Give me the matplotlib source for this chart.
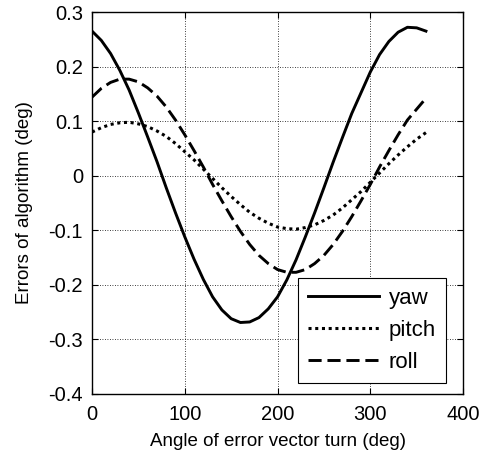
#!/usr/bin/env python3
"""Errors of algorithm versus angle of error vector turn (yaw / pitch / roll)."""

import matplotlib

matplotlib.use("Agg")
import matplotlib.pyplot as plt

angle = list(range(0, 361, 10))
yaw = [
    0.265, 0.248, 0.224, 0.193, 0.157, 0.115, 0.071, 0.026, -0.022, -0.068,
    -0.112, -0.153, -0.190, -0.222, -0.246, -0.262, -0.269, -0.268, -0.260, -0.244,
    -0.222, -0.191, -0.154, -0.112, -0.068, -0.022, 0.025, 0.070, 0.114, 0.152,
    0.190, 0.222, 0.246, 0.263, 0.272, 0.271, 0.265,
]
pitch = [
    0.080, 0.088, 0.094, 0.097, 0.098, 0.095, 0.090, 0.082, 0.072, 0.059,
    0.044, 0.029, 0.012, -0.005, -0.022, -0.038, -0.053, -0.067, -0.078, -0.087,
    -0.094, -0.097, -0.098, -0.095, -0.090, -0.082, -0.072, -0.059, -0.044, -0.029,
    -0.012, 0.005, 0.022, 0.038, 0.053, 0.067, 0.079,
]
roll = [
    0.144, 0.160, 0.171, 0.177, 0.177, 0.172, 0.161, 0.146, 0.126, 0.102,
    0.075, 0.046, 0.016, -0.016, -0.046, -0.075, -0.102, -0.126, -0.146, -0.161,
    -0.172, -0.177, -0.177, -0.172, -0.161, -0.146, -0.126, -0.102, -0.075, -0.046,
    -0.016, 0.016, 0.046, 0.075, 0.102, 0.122, 0.142,
]
x_ticks = [0, 100, 200, 300, 400]
y_ticks = [-0.4, -0.3, -0.2, -0.1, 0, 0.1, 0.2, 0.3]
y_tick_labels = ["-0.4", "-0.3", "-0.2", "-0.1", "0", "0.1", "0.2", "0.3"]


def main() -> None:
    plt.rcParams.update({"font.family": ["Liberation Sans", "DejaVu Sans"]})
    fig = plt.figure(figsize=(4.9, 4.57), dpi=100)
    ax = fig.add_axes([0.1878, 0.1379, 0.7572, 0.8358])

    ax.plot(angle, yaw, color="black", linewidth=2.1, linestyle="-", label="yaw")
    ax.plot(angle, pitch, color="black", linewidth=2.2, linestyle=(0, (1, 1.2)), label="pitch")
    ax.plot(angle, roll, color="black", linewidth=2.1, linestyle=(0, (4.5, 2)), label="roll")

    ax.set_xlim(0, 400)
    ax.set_ylim(-0.4, 0.3)
    ax.set_xticks(x_ticks)
    ax.set_yticks(y_ticks, y_tick_labels)
    ax.tick_params(direction="in", top=True, right=True, length=4, width=0.8,
                   labelsize=14.5)
    ax.tick_params(axis="x", pad=8)
    ax.tick_params(axis="y", pad=6.5)
    ax.grid(True, color="black", linestyle=(0, (1, 2)), linewidth=0.6)
    for spine in ax.spines.values():
        spine.set_linewidth(1.0)

    ax.set_xlabel("Angle of error vector turn (deg)", fontsize=13.5, labelpad=6.5)
    ax.set_ylabel("Errors of algorithm (deg)", fontsize=13.5, labelpad=11)

    leg = ax.legend(loc="lower right", bbox_to_anchor=(0.954, 0.029), borderaxespad=0,
                    fontsize=16, handlelength=3.2, handletextpad=0.45,
                    labelspacing=0.5, borderpad=0.45, fancybox=False, framealpha=1)
    leg.get_frame().set_edgecolor("black")
    leg.get_frame().set_linewidth(0.8)

    fig.savefig("out.png", dpi=100)
    plt.close(fig)


if __name__ == "__main__":
    main()
